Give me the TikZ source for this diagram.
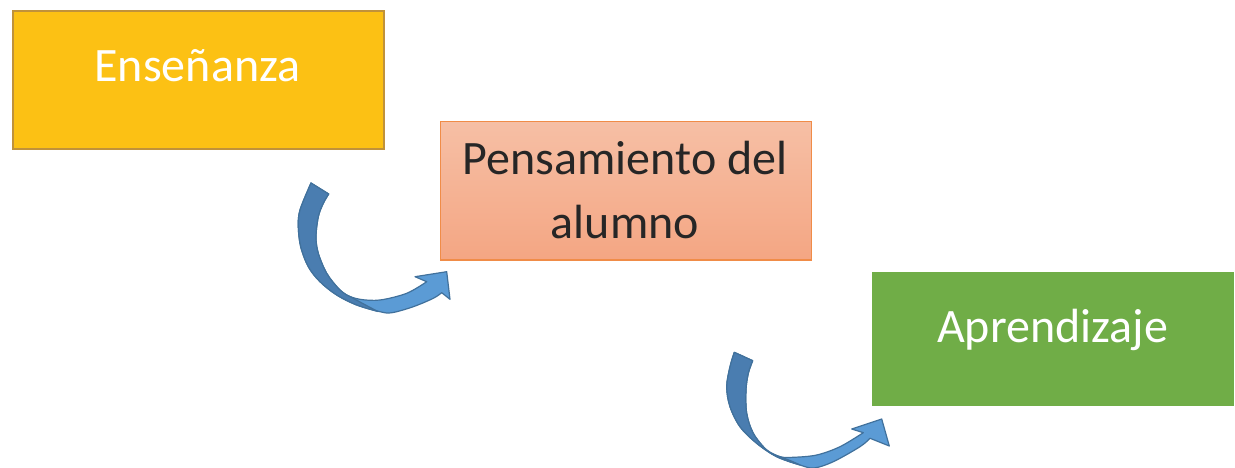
\documentclass[tikz,border=0pt]{standalone}
\usepackage{fontspec}
\setmainfont{Carlito}
\definecolor{gold}{HTML}{FCC114}
\definecolor{goldedge}{HTML}{C0923A}
\definecolor{salmontop}{HTML}{F6BFA5}
\definecolor{salmonbot}{HTML}{F4A683}
\definecolor{salmonedge}{HTML}{F08C48}
\definecolor{leaf}{HTML}{70AD47}
\definecolor{inkdark}{HTML}{262626}
\definecolor{arrlight}{HTML}{5B9BD5}
\definecolor{arrdark}{HTML}{4A7DB0}
\definecolor{arredge}{HTML}{41719C}
\tikzset{
  boxbase/.style={rectangle, inner sep=0pt, anchor=north west},
  lbl/.style={anchor=base, inner sep=0pt, font=\fontsize{48}{58}\selectfont},
  arrowbody/.style={fill=arrlight, draw=arredge, line width=1.2pt, line join=round},
  arrowback/.style={fill=arrdark, draw=arredge, line width=1.2pt, line join=round},
}
\begin{document}
\begin{tikzpicture}[x=1pt,y=-1pt]
\useasboundingbox (0,0) rectangle (1235,468);
\clip (0,0) rectangle (1235,468);
% boxes
\node[boxbase, fill=gold, draw=goldedge, line width=2pt,
      minimum width=371pt, minimum height=138pt] (b1) at (12,10) {};
\node[boxbase, top color=salmontop, bottom color=salmonbot, draw=salmonedge, line width=1.5pt,
      minimum width=371pt, minimum height=138pt] (b2) at (439.5,121) {};
\node[boxbase, fill=leaf,
      minimum width=362pt, minimum height=134pt] (b3) at (871.5,271.5) {};
% texts
\node[lbl, text=white] (t1) at (197.5,82) {Enseñanza};
\node[lbl, text=inkdark] (t2a) at (625,175) {Pensamiento del};
\node[lbl, text=inkdark] (t2b) at (625,238) {alumno};
\node[lbl, text=white] (t3) at (1052.5,342) {Aprendizaje};
% arrow 1
\path[arrowbody] (311,183)
  -- plot[smooth, tension=0.55] coordinates {(311,183) (300,210) (298.3,226.7) (300.7,246.7) (308.3,266.7) (320,281.7) (336.7,295) (356.7,305) (380,311.7) (392,312.7) (413.3,306.7) (433.3,298.3) (441.7,292.7)}
  -- (450,299.3) -- (446.7,271.7) -- (415,276.7) -- (426.7,281.7)
  -- plot[smooth, tension=0.55] coordinates {(426.7,281.7) (406.7,293.3) (380,300) (360,299.3) (346.7,295) (338.3,288.3) (326.7,273.3) (318.3,253.3) (316,236.7) (318.3,216.7) (323.3,203.3) (328.7,194)}
  -- cycle;
\path[arrowback] (311,183)
  -- plot[smooth, tension=0.55] coordinates {(311,183) (300,210) (298.3,226.7) (300.7,246.7) (308.3,266.7) (320,281.7) (336.7,295) (356.7,305) (378,311.5)}
  .. controls (365,305) and (355,299) .. (346.7,295)
  -- plot[smooth, tension=0.55] coordinates {(346.7,295) (338.3,288.3) (326.7,273.3) (318.3,253.3) (316,236.7) (318.3,216.7) (323.3,203.3) (328.7,194)}
  -- cycle;
% arrow 2
\path[arrowbody] (734.3,352.3)
  -- plot[smooth, tension=0.55] coordinates {(734.3,352.3) (730,366.7) (726.7,386.7) (730,406.7) (740,426.7) (756.7,443.3) (776.7,456.7) (800,465) (814,468) (833.3,461.7) (860,446.7) (870,438.3)}
  -- (889.3,446) -- (881.7,419) -- (851.7,429) -- (863.3,432.7)
  -- plot[smooth, tension=0.55] coordinates {(863.3,432.7) (840,446.7) (816.7,455) (793.3,457.3) (780,456.7) (766.7,450) (753.3,433.3) (746.7,413.3) (746,390) (748.3,373.3) (752.7,360.7)}
  -- cycle;
\path[arrowback] (734.3,352.3)
  -- plot[smooth, tension=0.55] coordinates {(734.3,352.3) (730,366.7) (726.7,386.7) (730,406.7) (740,426.7) (756.7,443.3) (776.7,456.7) (800,465)}
  .. controls (792,461) and (786,459) .. (780,456.7)
  -- plot[smooth, tension=0.55] coordinates {(780,456.7) (766.7,450) (753.3,433.3) (746.7,413.3) (746,390) (748.3,373.3) (752.7,360.7)}
  -- cycle;
\end{tikzpicture}
\end{document}
